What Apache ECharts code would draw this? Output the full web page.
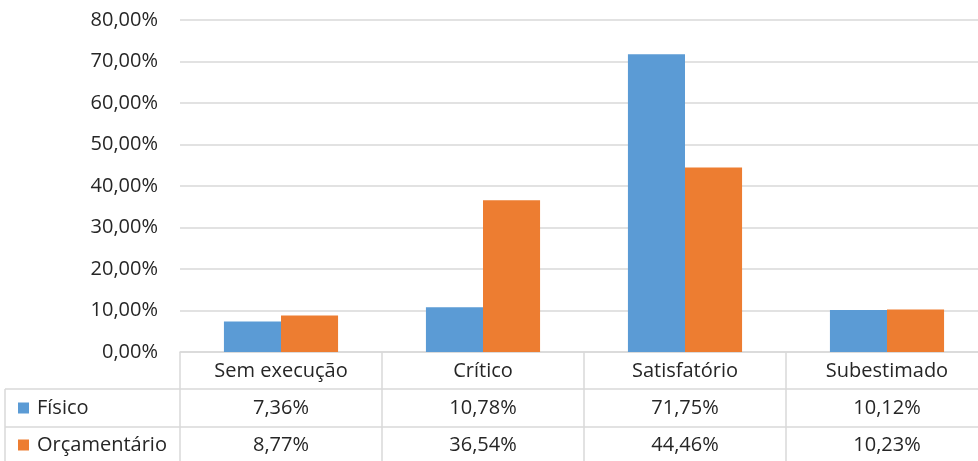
<!DOCTYPE html>
<html>
<head>
<meta charset="utf-8">
<script src="https://cdn.jsdelivr.net/npm/echarts@6/dist/echarts.min.js"></script>
<style>
html,body{margin:0;padding:0;background:#fff;}
#c{width:978px;height:461px;}
</style>
</head>
<body>
<div id="c"></div>
<script>
const categories = ['Sem execução', 'Crítico', 'Satisfatório', 'Subestimado'];
const seriesNames = ['Físico', 'Orçamentário'];
const fisico = [7.36, 10.78, 71.75, 10.12];
const orcamentario = [8.77, 36.54, 44.46, 10.23];
const yTicks = { min: 0, max: 80, interval: 10 };

const FONT = 'Open Sans';
const TXT = '#262626';
const LINE = '#d9d9d9';
const fmt = v => v.toFixed(2).replace('.', ',') + '%';

const chart = echarts.init(document.getElementById('c'));
const W = 978;
const option = {
  animation: false,
  textStyle: { fontFamily: FONT },
  color: ['#5b9bd5', '#ed7d31'],
  grid: { left: 180, width: 808, top: 20, height: 332, containLabel: false, outerBoundsMode: 'none' },
  legend: {
    orient: 'vertical',
    left: 18, top: 398,
    padding: 0,
    icon: 'rect', itemWidth: 11, itemHeight: 11,
    itemGap: 17,
    textStyle: { fontFamily: FONT, fontSize: 20, color: TXT, lineHeight: 20, padding: [0, 0, 0, 3] },
    data: seriesNames
  },
  xAxis: {
    type: 'category',
    data: categories,
    axisLine: { lineStyle: { color: LINE, width: 1.5 } },
    axisTick: { show: true, length: 112, lineStyle: { color: LINE, width: 1.5 } },
    axisLabel: {
      margin: 1,
      interval: 0,
      formatter: (v, i) => `{h|${v}}\n{v|${fmt(fisico[i])}}\n{v|${fmt(orcamentario[i])}}`,
      rich: {
        h: { fontFamily: FONT, fontSize: 20, color: TXT, lineHeight: 37 },
        v: { fontFamily: FONT, fontSize: 20, color: TXT, lineHeight: 37 }
      }
    }
  },
  yAxis: {
    type: 'value',
    min: yTicks.min, max: yTicks.max, interval: yTicks.interval,
    axisLine: { show: false },
    axisTick: { show: false },
    splitLine: { lineStyle: { color: LINE, width: 1.5 } },
    axisLabel: {
      margin: 22,
      fontFamily: FONT, fontSize: 20, color: TXT,
      formatter: v => fmt(v)
    }
  },
  series: [
    { name: seriesNames[0], type: 'bar', data: fisico, barGap: '0%', barCategoryGap: '43.5%' },
    { name: seriesNames[1], type: 'bar', data: orcamentario, barGap: '0%', barCategoryGap: '43.5%' }
  ],
  graphic: [
    { type: 'line', shape: { x1: 5, y1: 389, x2: W, y2: 389 }, style: { stroke: LINE, lineWidth: 1.5 } },
    { type: 'line', shape: { x1: 5, y1: 427, x2: W, y2: 427 }, style: { stroke: LINE, lineWidth: 1.5 } },
    { type: 'line', shape: { x1: 5, y1: 389, x2: 5, y2: 461 }, style: { stroke: LINE, lineWidth: 1.5 } }
  ]
};
chart.setOption(option);
</script>
</body>
</html>
